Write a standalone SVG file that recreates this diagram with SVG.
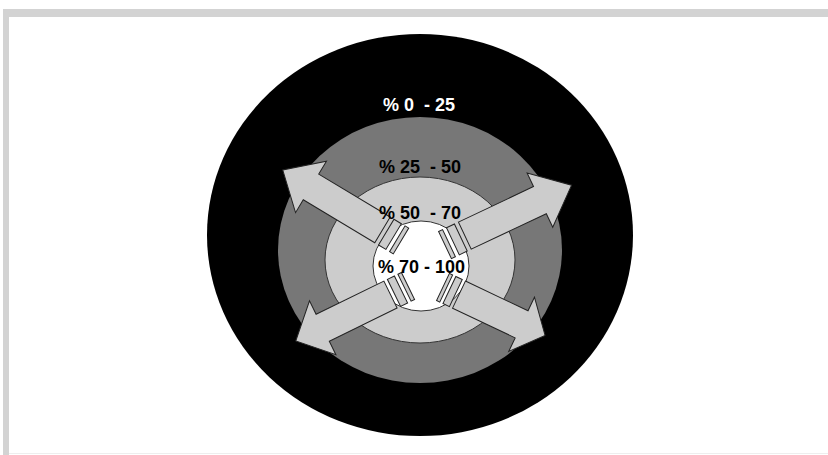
<svg xmlns="http://www.w3.org/2000/svg" width="828" height="455" viewBox="0 0 828 455">
<style>
.lbl{font-family:"Liberation Sans",Arial,sans-serif;font-weight:bold;font-size:18px;text-anchor:middle;white-space:pre}
.arw{fill:#cccccc;stroke:#222222;stroke-width:1}
</style>
<rect x="0" y="0" width="828" height="455" fill="#ffffff"/>
<g id="frame">
<rect x="3" y="9" width="825" height="8" fill="#d3d3d3"/>
<rect x="3" y="9" width="6" height="446" fill="#d3d3d3"/>
<rect x="9" y="453" width="819" height="1" fill="#eeeeee"/>
</g>
<g id="ring-0-25"><ellipse cx="420" cy="235" rx="213" ry="201" fill="#000000"/></g>
<g id="ring-25-50"><ellipse cx="420" cy="250" rx="142" ry="133" fill="#777777"/></g>
<g id="ring-50-70"><ellipse cx="420" cy="260" rx="95" ry="83" fill="#cccccc" stroke="#333333" stroke-width="1"/></g>
<g id="ring-70-100"><ellipse cx="421" cy="266" rx="48" ry="45" fill="#ffffff" stroke="#333333" stroke-width="1"/></g>
<g id="connectors">
<g transform="translate(401,241) rotate(211)">
<rect class="arw" x="0" y="-15" width="4.3" height="30"/>
<rect class="arw" x="8.6" y="-15" width="8.6" height="30"/>
<polygon class="arw" points="21.6,-15 105,-15 105,-30 138,0 105,30 105,15 21.6,15"/>
</g>
<g transform="translate(445,245) rotate(-25.3)">
<rect class="arw" x="0" y="-15" width="4.4" height="30"/>
<rect class="arw" x="8.75" y="-15" width="8.75" height="30"/>
<polygon class="arw" points="21.9,-15 105,-15 105,-30 140,0 105,30 105,15 21.9,15"/>
</g>
<g transform="translate(408,286) rotate(153.9)">
<rect class="arw" x="0" y="-15" width="3.9" height="30"/>
<rect class="arw" x="7.8" y="-15" width="7.8" height="30"/>
<polygon class="arw" points="19.5,-15 95,-15 95,-30 125,0 95,30 95,15 19.5,15"/>
</g>
<g transform="translate(443,287) rotate(25.4)">
<rect class="arw" x="0" y="-15" width="3.5" height="30"/>
<rect class="arw" x="7.1" y="-15" width="7.1" height="30"/>
<polygon class="arw" points="17.7,-15 87,-15 87,-30 113,0 87,30 87,15 17.7,15"/>
</g>
</g>
<g id="labels">
<text class="lbl" x="419" y="111" fill="#ffffff">% 0  - 25</text>
<text class="lbl" x="420" y="173" fill="#000000">% 25  - 50</text>
<text class="lbl" x="420" y="219" fill="#000000">% 50  - 70</text>
<text class="lbl" x="421.5" y="273" fill="#000000">% 70 - 100</text>
</g>
</svg>
